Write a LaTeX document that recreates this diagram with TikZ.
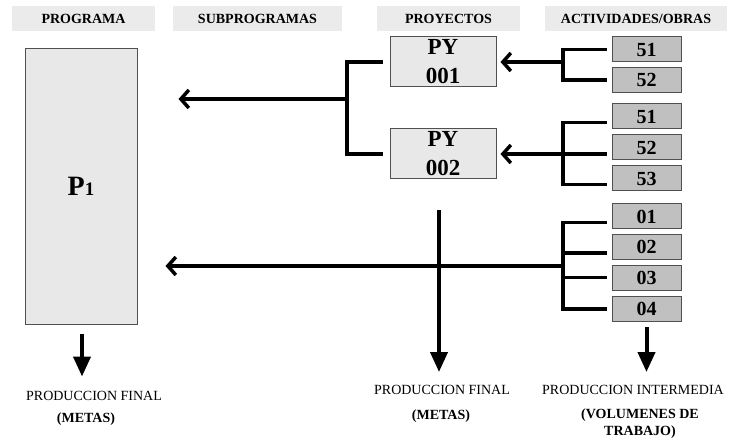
\documentclass[tikz,border=0pt]{standalone}
\usepackage{fontspec}
\setmainfont{Liberation Serif}
\usetikzlibrary{arrows.meta}

\definecolor{hdrgray}{HTML}{EBEBEB}
\definecolor{lightbox}{HTML}{E8E8E8}
\definecolor{actgray}{HTML}{C0C0C0}
\definecolor{boxedge}{HTML}{505050}

\begin{document}
\begin{tikzpicture}[x=1pt, y=-1pt,
    hdr/.style={fill=hdrgray, minimum height=25pt, inner sep=0pt,
      font=\bfseries\fontsize{14}{16}\selectfont},
    pbox/.style={draw=boxedge, fill=lightbox, line width=1pt, inner sep=0pt,
      minimum width=112pt, minimum height=275pt},
    pybox/.style={draw=boxedge, fill=lightbox, line width=1pt, inner sep=0pt,
      minimum width=106pt, minimum height=50pt, align=center,
      font=\bfseries\fontsize{23}{29}\selectfont},
    act/.style={draw=boxedge, fill=actgray, line width=1pt, inner sep=0pt,
      minimum width=69pt, minimum height=25pt,
      font=\bfseries\fontsize{20}{20}\selectfont},
    outtxt/.style={inner sep=0pt, font=\fontsize{14}{16}\selectfont},
    outbold/.style={inner sep=0pt, align=center, font=\bfseries\fontsize{14}{17}\selectfont},
    link/.style={line width=3.5pt, line join=miter},
    back/.style={link, -{Straight Barb[length=8pt,width=18pt]}},
    down/.style={line width=4pt, -{Triangle[length=20pt,width=17pt]}}]

  \useasboundingbox (0,0) rectangle (729,441);

  % Draw headers
  \node[hdr, minimum width=143pt] (hProg) at (83.5,18.5) {PROGRAMA};
  \node[hdr, minimum width=169pt] (hSub) at (257.5,18.5) {SUBPROGRAMAS};
  \node[hdr, minimum width=143pt] (hProy) at (448.5,18.5) {PROYECTOS};
  \node[hdr, minimum width=182pt] (hAct) at (636,18.5) {ACTIVIDADES/OBRAS};

  % Draw program and projects
  \node[pbox] (p1) at (81,186.5) {\bfseries\fontsize{28}{30}\selectfont P{\fontsize{19}{19}\selectfont 1}};
  \node[pybox] (py1) at (443,62) {PY\\001};
  \node[pybox] (py2) at (443,154) {PY\\002};

  % Draw activities
  \node[act] (a51) at (646.5,49.5) {51};
  \node[act] (a52) at (646.5,80) {52};
  \node[act] (b51) at (646.5,116.5) {51};
  \node[act] (b52) at (646.5,147.5) {52};
  \node[act] (b53) at (646.5,178.5) {53};
  \node[act] (c01) at (646.5,216.5) {01};
  \node[act] (c02) at (646.5,247) {02};
  \node[act] (c03) at (646.5,277.5) {03};
  \node[act] (c04) at (646.5,309) {04};

  % Draw brackets and arrows
  \coordinate (jA) at (563,62);
  \coordinate (jB) at (563,154);
  \coordinate (jC) at (563,266);
  \coordinate (jP) at (347,99);
  \coordinate (mTop) at (439,210);
  \coordinate (mEnd) at (439,372);

  \draw[link] ([xshift=-5pt]a51.west) -| (jA) |- ([xshift=-5pt]a52.west);
  \draw[back] (jA) -- ([xshift=4pt]py1.east);

  \draw[link] ([shift={(-5pt,-6pt)}]b51.west) -| (jB) |- ([shift={(-5pt,-6pt)}]b53.west);
  \draw[link] (jB) -- ([xshift=-5pt]jB -| b52.west);
  \draw[back] (jB) -- ([xshift=4pt]jB -| py2.east);

  \draw[link] ([shift={(-5pt,-6pt)}]c01.west) -| (jC) |- ([xshift=-5pt]c04.west);
  \draw[link] ([shift={(-5pt,-6pt)}]c02.west) -| (jC);
  \draw[link] ([xshift=-5pt]c03.west) -| (jC);
  \draw[back] (jC) -- ([xshift=28pt]jC -| p1.east);

  \draw[link] ([xshift=-7pt]py1.west) -| (jP) |- ([xshift=-7pt]py2.west);
  \draw[back] (jP) -- ([xshift=41pt]jP -| p1.east);

  \draw[down] (mTop) -- (mEnd);
  \draw[down] ([shift={(1pt,-9pt)}]p1.south) -- ([shift={(1pt,-52pt)}]p1.south);
  \draw[down] ([yshift=-5pt]c04.south) -- ([yshift=-50pt]c04.south);

  % Draw outputs
  \node[outtxt] (outL) at (94,396) {PRODUCCION FINAL};
  \node[outbold] (metasL) at (86,419) {(METAS)};
  \node[outtxt] (outM) at (442,390) {PRODUCCION FINAL};
  \node[outbold] (metasM) at (441,416) {(METAS)};
  \node[outtxt] (outR) at (633,390) {PRODUCCION INTERMEDIA};
  \node[outbold] (volR) at (640,424) {(VOLUMENES DE\\TRABAJO)};
\end{tikzpicture}
\end{document}
